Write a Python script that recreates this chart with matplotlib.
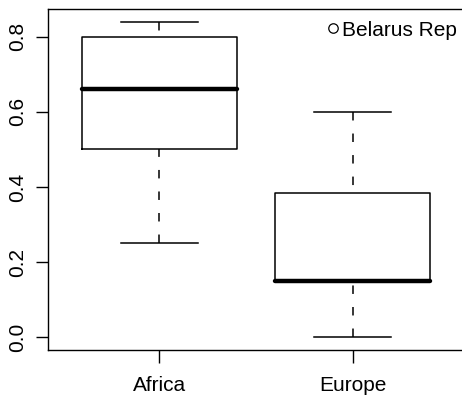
import matplotlib
matplotlib.use("Agg")
import matplotlib.pyplot as plt
from matplotlib.lines import Line2D

plt.rcParams['font.family'] = ['Liberation Sans', 'DejaVu Sans']
plt.rcParams['lines.scale_dashes'] = False

# Data
categories = ["Africa", "Europe"]
whisker_low = [0.25, 0.00]
q1 = [0.50, 0.15]
medians = [0.66, 0.15]
q3 = [0.80, 0.385]
whisker_high = [0.84, 0.60]
legend_label = "Belarus Rep"
yticks = [0.0, 0.2, 0.4, 0.6, 0.8]
ytick_labels = ["0.0", "0.2", "0.4", "0.6", "0.8"]

W, H = 462, 398
fig = plt.figure(figsize=(W / 100, H / 100), dpi=100)
ax = fig.add_axes([47.5 / W, 1 - 350 / H, (464.5 - 47.5) / W, (350 - 9) / H])

stats = []
for i, c in enumerate(categories):
    stats.append(dict(label=c, whislo=whisker_low[i], q1=q1[i], med=medians[i],
                      q3=q3[i], whishi=whisker_high[i], fliers=[]))

lw = 1.1
res = ax.bxp(stats, positions=[1, 2], widths=0.8, showfliers=False,
             boxprops=dict(color='black', linewidth=lw),
             whiskerprops=dict(color='black', linewidth=lw, linestyle=(0, (6.1, 9.4))),
             capprops=dict(color='black', linewidth=lw),
             medianprops=dict(color='black', linewidth=3.2, solid_capstyle='round'),
             capwidths=0.4)
# draw whiskers from the whisker end toward the box (as R does)
for w in res['whiskers']:
    w.set_ydata(list(w.get_ydata())[::-1])

ax.set_xlim(0.42, 2.58)
ax.set_ylim(-0.0336, 0.8736)
ax.set_yticks(yticks)
ax.set_yticklabels(ytick_labels, rotation=90, va='center')
ax.set_xticks([1, 2])
ax.set_xticklabels(categories)
ax.tick_params(axis='both', length=9, width=1.0, labelsize=15, color='black')
ax.tick_params(axis='y', pad=5.5)
ax.tick_params(axis='x', pad=10)
for s in ax.spines.values():
    s.set_linewidth(1.0)

handle = Line2D([], [], linestyle='none', marker='o', markersize=6.8,
                markerfacecolor='none', markeredgecolor='black', markeredgewidth=0.9)
ax.legend([handle], [legend_label], loc='center left',
          bbox_to_anchor=(328 / W, 1 - 30 / H), bbox_transform=fig.transFigure,
          frameon=False, fontsize=15, borderpad=0, borderaxespad=0,
          handlelength=0.5, handletextpad=0.16)

fig.savefig("out.png", dpi=100)
